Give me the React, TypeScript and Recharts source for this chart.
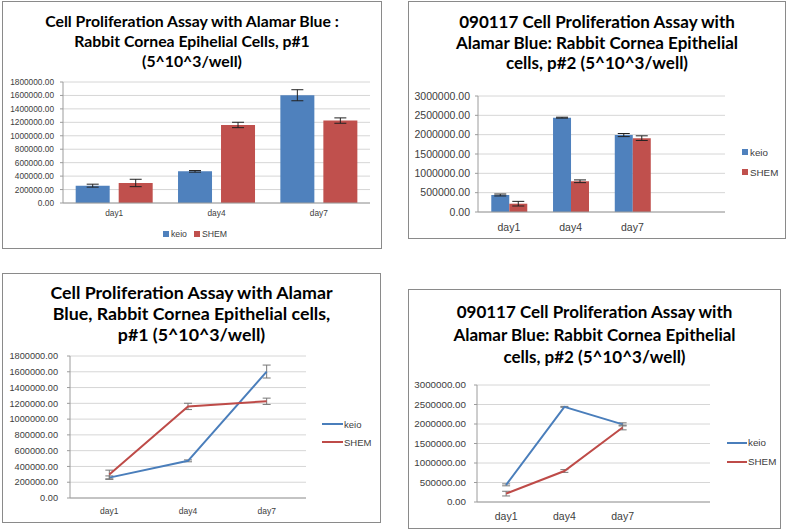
import React from 'react';
import { BarChart, Bar, LineChart, Line, XAxis, YAxis, CartesianGrid, Legend, ErrorBar } from 'recharts';

// ---------- data ----------
const days1 = ['day1', 'day4', 'day7'];
const days2 = ['day1', 'day4', 'day7', ''];
const seriesNames = ['keio', 'SHEM'];

const p1Keio = [258000, 471000, 1603000];
const p1KeioErr = [22000, 12000, 82000];
const p1Shem = [298000, 1161000, 1226000];
const p1ShemErr = [55000, 40000, 40000];

const p2Keio = [440000, 2440000, 1990000];
const p2KeioErr = [25000, 12000, 40000];
const p2Shem = [215000, 795000, 1910000];
const p2ShemErr = [60000, 35000, 60000];

const ticks1 = [0, 200000, 400000, 600000, 800000, 1000000, 1200000, 1400000, 1600000, 1800000];
const ticks2 = [0, 500000, 1000000, 1500000, 2000000, 2500000, 3000000];

const title1 = ['Cell Proliferation Assay with Alamar Blue :', 'Rabbit Cornea Epihelial Cells, p#1', '(5^10^3/well)'];
const title2 = ['090117 Cell Proliferation Assay with', 'Alamar Blue: Rabbit Cornea Epithelial', 'cells, p#2 (5^10^3/well)'];
const title3 = ['Cell Proliferation Assay with Alamar', 'Blue, Rabbit Cornea Epithelial cells,', 'p#1 (5^10^3/well)'];
const title4 = ['090117 Cell Proliferation Assay with', 'Alamar Blue: Rabbit Cornea Epithelial', 'cells, p#2 (5^10^3/well)'];

const data1 = days1.map((d, i) => ({ day: d, keio: p1Keio[i], keioErr: p1KeioErr[i], shem: p1Shem[i], shemErr: p1ShemErr[i] }));
const data2 = days2.map((d, i) => ({
  day: d,
  keio: i < p2Keio.length ? p2Keio[i] : null,
  keioErr: i < p2KeioErr.length ? p2KeioErr[i] : null,
  shem: i < p2Shem.length ? p2Shem[i] : null,
  shemErr: i < p2ShemErr.length ? p2ShemErr[i] : null,
}));

// ---------- styles ----------
const FONT = '"Liberation Sans", Arial, sans-serif';
const TFONT = 'Lato, "Liberation Sans", sans-serif';
const BLUE = '#4F81BD';
const RED = '#C0504D';
const LBLUE = '#4A7EBB';
const LRED = '#BE4B48';
const GRID = '#d6d6d6';
const AXIS = '#9c9c9c';
const TXT = '#404040';

const fmt = (v: number) => v.toFixed(2);

const ordered = (payload: any[]) =>
  [...(payload || [])].sort((a, b) => seriesNames.indexOf(a.value) - seriesNames.indexOf(b.value));

function Box({ left, top, width, height, children }: any) {
  return (
    <div style={{ position: 'absolute', left, top, width, height, boxSizing: 'border-box', border: '1px solid #8a8a8a', background: '#fff' }}>
      {children}
    </div>
  );
}

function Title({ lines, top, fontSize, lineHeight }: any) {
  return (
    <div style={{ position: 'absolute', left: 0, right: 0, top, textAlign: 'center', fontFamily: TFONT, fontWeight: 700, fontSize, lineHeight: lineHeight + 'px', color: '#000', zIndex: 2, pointerEvents: 'none' }}>
      {lines.map((l: string, i: number) => (
        <div key={i}>{l}</div>
      ))}
    </div>
  );
}

const squareLegendRow = (fontSize: number) => (props: any) => (
  <div style={{ display: 'flex', alignItems: 'center', fontFamily: FONT, fontSize, color: TXT }}>
    {ordered(props.payload).map((p: any) => (
      <span key={p.value} style={{ display: 'flex', alignItems: 'center', marginRight: 7 }}>
        <span style={{ display: 'inline-block', width: 6, height: 6, background: p.color, marginRight: 2 }} />
        {p.value}
      </span>
    ))}
  </div>
);

const squareLegendCol = (fontSize: number, rowH: number) => (props: any) => (
  <div style={{ fontFamily: FONT, fontSize, color: TXT }}>
    {ordered(props.payload).map((p: any) => (
      <div key={p.value} style={{ display: 'flex', alignItems: 'center', height: rowH }}>
        <span style={{ display: 'inline-block', width: 6, height: 6, background: p.color, marginRight: 2 }} />
        {p.value}
      </div>
    ))}
  </div>
);

const lineLegendCol = (fontSize: number, rowH: number, lineW: number) => (props: any) => (
  <div style={{ fontFamily: FONT, fontSize, color: TXT }}>
    {ordered(props.payload).map((p: any) => (
      <div key={p.value} style={{ display: 'flex', alignItems: 'center', height: rowH }}>
        <span style={{ display: 'inline-block', width: lineW, height: 2, background: p.color, marginRight: 1 }} />
        {p.value}
      </div>
    ))}
  </div>
);

export default function App() {
  return (
    <div style={{ position: 'absolute', left: 0, top: 0, width: 786, height: 530, background: '#fff', overflow: 'hidden' }}>
      {/* Panel 1: bar chart p#1 */}
      <Box left={2} top={1} width={380} height={248}>
        <Title lines={title1} top={9} fontSize={15.8} lineHeight={20} />
        <BarChart width={378} height={246} data={data1} margin={{ top: 80, right: 11, bottom: 25, left: 4 }} barCategoryGap="12.4%" barGap={9}>
          <CartesianGrid vertical={false} stroke={GRID} />
          <XAxis dataKey="day" height={20} axisLine={{ stroke: AXIS }} tickLine={false} tickSize={0} tickMargin={7} tick={{ fontSize: 8.3, fill: TXT, fontFamily: FONT }} />
          <YAxis width={56} domain={[0, 1800000]} ticks={ticks1} interval={0} tickFormatter={fmt} axisLine={{ stroke: AXIS }} tickLine={{ stroke: AXIS }} tickSize={3} tickMargin={6} tick={{ fontSize: 8.3, fill: TXT, fontFamily: FONT }} />
          <Legend layout="vertical" align="center" verticalAlign="middle" wrapperStyle={{ left: 160, top: 227, width: 'auto' }} content={squareLegendRow(8.7)} />
          <Bar dataKey="keio" name="keio" fill={BLUE} isAnimationActive={false}>
            <ErrorBar dataKey="keioErr" width={6} stroke="#222" strokeWidth={1} />
          </Bar>
          <Bar dataKey="shem" name="SHEM" fill={RED} isAnimationActive={false}>
            <ErrorBar dataKey="shemErr" width={6} stroke="#222" strokeWidth={1} />
          </Bar>
        </BarChart>
      </Box>

      {/* Panel 2: bar chart p#2 */}
      <Box left={408} top={1} width={378} height={238}>
        <Title lines={title2} top={10} fontSize={17} lineHeight={20.5} />
        <BarChart width={376} height={236} data={data2} margin={{ top: 94, right: 60, bottom: 6, left: 5 }} barCategoryGap="21.5%" barGap={0}>
          <CartesianGrid vertical={false} stroke={GRID} />
          <XAxis dataKey="day" height={20} axisLine={{ stroke: AXIS }} tickLine={false} tickSize={0} tickMargin={12} tick={{ fontSize: 10.5, fill: TXT, fontFamily: FONT }} />
          <YAxis width={64} domain={[0, 3000000]} ticks={ticks2} interval={0} tickFormatter={fmt} axisLine={{ stroke: AXIS }} tickLine={{ stroke: AXIS }} tickSize={3} tickMargin={5} tick={{ fontSize: 10.5, fill: TXT, fontFamily: FONT }} />
          <Legend layout="vertical" align="center" verticalAlign="middle" wrapperStyle={{ left: 333, top: 140, width: 'auto' }} content={squareLegendCol(9.8, 20)} />
          <Bar dataKey="keio" name="keio" fill={BLUE} isAnimationActive={false}>
            <ErrorBar dataKey="keioErr" width={6} stroke="#222" strokeWidth={1} />
          </Bar>
          <Bar dataKey="shem" name="SHEM" fill={RED} isAnimationActive={false}>
            <ErrorBar dataKey="shemErr" width={6} stroke="#222" strokeWidth={1} />
          </Bar>
        </BarChart>
      </Box>

      {/* Panel 3: line chart p#1 */}
      <Box left={2} top={273} width={379} height={250}>
        <Title lines={title3} top={8} fontSize={17.8} lineHeight={21} />
        <LineChart width={377} height={248} data={data1} margin={{ top: 82, right: 74, bottom: 6, left: 5 }}>
          <CartesianGrid vertical={false} stroke={GRID} />
          <XAxis dataKey="day" scale="band" height={18} axisLine={{ stroke: AXIS }} tickLine={false} tickSize={0} tickMargin={10} tick={{ fontSize: 8.5, fill: TXT, fontFamily: FONT }} />
          <YAxis width={62} domain={[0, 1800000]} ticks={ticks1} interval={0} tickFormatter={fmt} axisLine={{ stroke: AXIS }} tickLine={{ stroke: AXIS }} tickSize={3} tickMargin={9} tick={{ fontSize: 9.2, fill: TXT, fontFamily: FONT }} />
          <Legend layout="vertical" align="center" verticalAlign="middle" wrapperStyle={{ left: 319, top: 141, width: 'auto' }} content={lineLegendCol(9.5, 18, 21)} />
          <Line type="linear" dataKey="keio" name="keio" stroke={LBLUE} strokeWidth={2} dot={false} isAnimationActive={false}>
            <ErrorBar dataKey="keioErr" width={4} stroke="#777" strokeWidth={1} />
          </Line>
          <Line type="linear" dataKey="shem" name="SHEM" stroke={LRED} strokeWidth={2} dot={false} isAnimationActive={false}>
            <ErrorBar dataKey="shemErr" width={4} stroke="#777" strokeWidth={1} />
          </Line>
        </LineChart>
      </Box>

      {/* Panel 4: line chart p#2 */}
      <Box left={408} top={289} width={373} height={240}>
        <Title lines={title4} top={11} fontSize={17} lineHeight={22.5} />
        <LineChart width={371} height={238} data={data2} margin={{ top: 95, right: 70, bottom: 8, left: 5 }}>
          <CartesianGrid vertical={false} stroke={GRID} />
          <XAxis dataKey="day" scale="band" height={18} axisLine={{ stroke: AXIS }} tickLine={false} tickSize={0} tickMargin={11} tick={{ fontSize: 10.5, fill: TXT, fontFamily: FONT }} />
          <YAxis width={63} domain={[0, 3000000]} ticks={ticks2} interval={0} tickFormatter={fmt} axisLine={{ stroke: AXIS }} tickLine={{ stroke: AXIS }} tickSize={3} tickMargin={8} tick={{ fontSize: 9.8, fill: TXT, fontFamily: FONT }} />
          <Legend layout="vertical" align="center" verticalAlign="middle" wrapperStyle={{ left: 318, top: 143, width: 'auto' }} content={lineLegendCol(9.8, 19, 20)} />
          <Line type="linear" dataKey="keio" name="keio" stroke={LBLUE} strokeWidth={2} dot={false} isAnimationActive={false}>
            <ErrorBar dataKey="keioErr" width={4} stroke="#777" strokeWidth={1} />
          </Line>
          <Line type="linear" dataKey="shem" name="SHEM" stroke={LRED} strokeWidth={2} dot={false} isAnimationActive={false}>
            <ErrorBar dataKey="shemErr" width={4} stroke="#777" strokeWidth={1} />
          </Line>
        </LineChart>
      </Box>
    </div>
  );
}
